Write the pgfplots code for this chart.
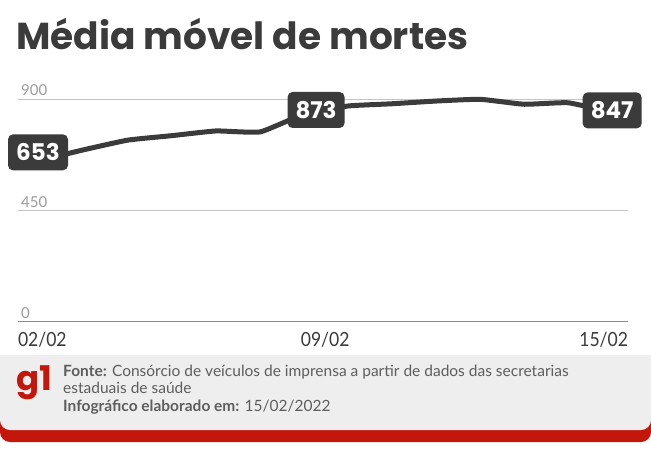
\documentclass[border=0pt]{standalone}
\usepackage{fontspec}
\setmainfont{Lato}
\newfontfamily\pop{Poppins}
\newfontfamily\cond{Lato}[FakeStretch=0.9]
\usepackage{pgfplots}
\pgfplotsset{compat=1.18}
\definecolor{dark}{HTML}{3B3B3B}
\definecolor{gridc}{HTML}{C4C4C4}
\definecolor{zeroc}{HTML}{8A8A8A}
\definecolor{tickc}{HTML}{9A9A9A}
\definecolor{g1red}{HTML}{C4170C}
\definecolor{foot}{HTML}{EEEEEE}
\definecolor{foottext}{HTML}{5E5E5E}

\pgfplotstableread{
x y
0 653
1 696
2 735
3 753
4 772
5 768
6 840
7 873
8 882
9 893
10 900
11 880
12 886
13 847
}\mortes

\begin{document}
\begin{tikzpicture}[x=1pt,y=1pt]
\path[use as bounding box] (0,0) rectangle (651,-450);
\coordinate (AX) at (18,-321.7);
% footer
\fill[g1red] (0,-355) rectangle (651,-400);
\fill[g1red, rounded corners=10pt] (0,-380) rectangle (651,-442);
\fill[foot] (0,-355) rectangle (651,-400);
\fill[foot, rounded corners=10pt] (0,-380) rectangle (651,-430);
\node[anchor=base west, text=g1red, font=\pop\bfseries\fontsize{34}{34}\selectfont, inner sep=0] at (16,-390) {g1};
\node[anchor=north west, align=left, inner sep=0, font=\fontsize{15.5}{17}\selectfont, text=foottext] at (63,-365)
  {\textbf{Fonte:} Consórcio de veículos de imprensa a partir de dados das secretarias\\
   estaduais de saúde\\[0.5pt]
   \textbf{Infográfico elaborado em:} 15/02/2022};
% title
\node[anchor=base west, text=dark, font=\pop\bfseries\fontsize{37.5}{37.5}\selectfont, inner sep=0] at (16,-49) {Média móvel de mortes};

\begin{axis}[
  at={(AX)}, anchor=south west,
  scale only axis, width=610pt, height=222.4pt,
  xmin=-0.5, xmax=13.36, ymin=0, ymax=900,
  clip=false,
  axis line style={draw=none},
  major tick length=0pt,
  ytick={450,900},
  extra y ticks={0},
  extra y tick style={grid style={zeroc, line width=1.2pt}},
  ymajorgrids,
  grid style={gridc, line width=1pt},
  /pgf/number format/assume math mode=true,
  yticklabel style={anchor=south west, inner sep=0pt, xshift=3pt, yshift=3pt, text=tickc, font=\fontsize{15}{15}\selectfont},
  xtick={-0.5,6.48,13.36},
  xticklabels={\makebox[0pt][l]{02/02}, 09/02, \makebox[0pt][r]{15/02}},
  xticklabel style={anchor=north, inner sep=0pt, yshift=-10pt, text=dark, font=\cond\fontsize{19.5}{19.5}\selectfont},
]
\addplot[dark, line width=5pt, smooth, tension=0.25, line join=round] table[x=x,y=y] {\mortes};
\node[fill=dark, text=white, rounded corners=5pt, minimum width=60pt, minimum height=36pt, inner sep=0pt,
  font=\pop\bfseries\fontsize{23}{23}\selectfont] at (axis cs:0,653) [xshift=-2pt, yshift=8pt] {653};
\node[fill=dark, text=white, rounded corners=5pt, minimum width=57pt, minimum height=36pt, inner sep=0pt,
  font=\pop\bfseries\fontsize{23}{23}\selectfont] at (axis cs:7,873) [xshift=-32pt, yshift=-4pt] {873};
\node[fill=dark, text=white, rounded corners=5pt, minimum width=59pt, minimum height=36pt, inner sep=0pt,
  font=\pop\bfseries\fontsize{23}{23}\selectfont] at (axis cs:13,847) [xshift=0pt, yshift=2pt] {847};
\end{axis}
\end{tikzpicture}
\end{document}
